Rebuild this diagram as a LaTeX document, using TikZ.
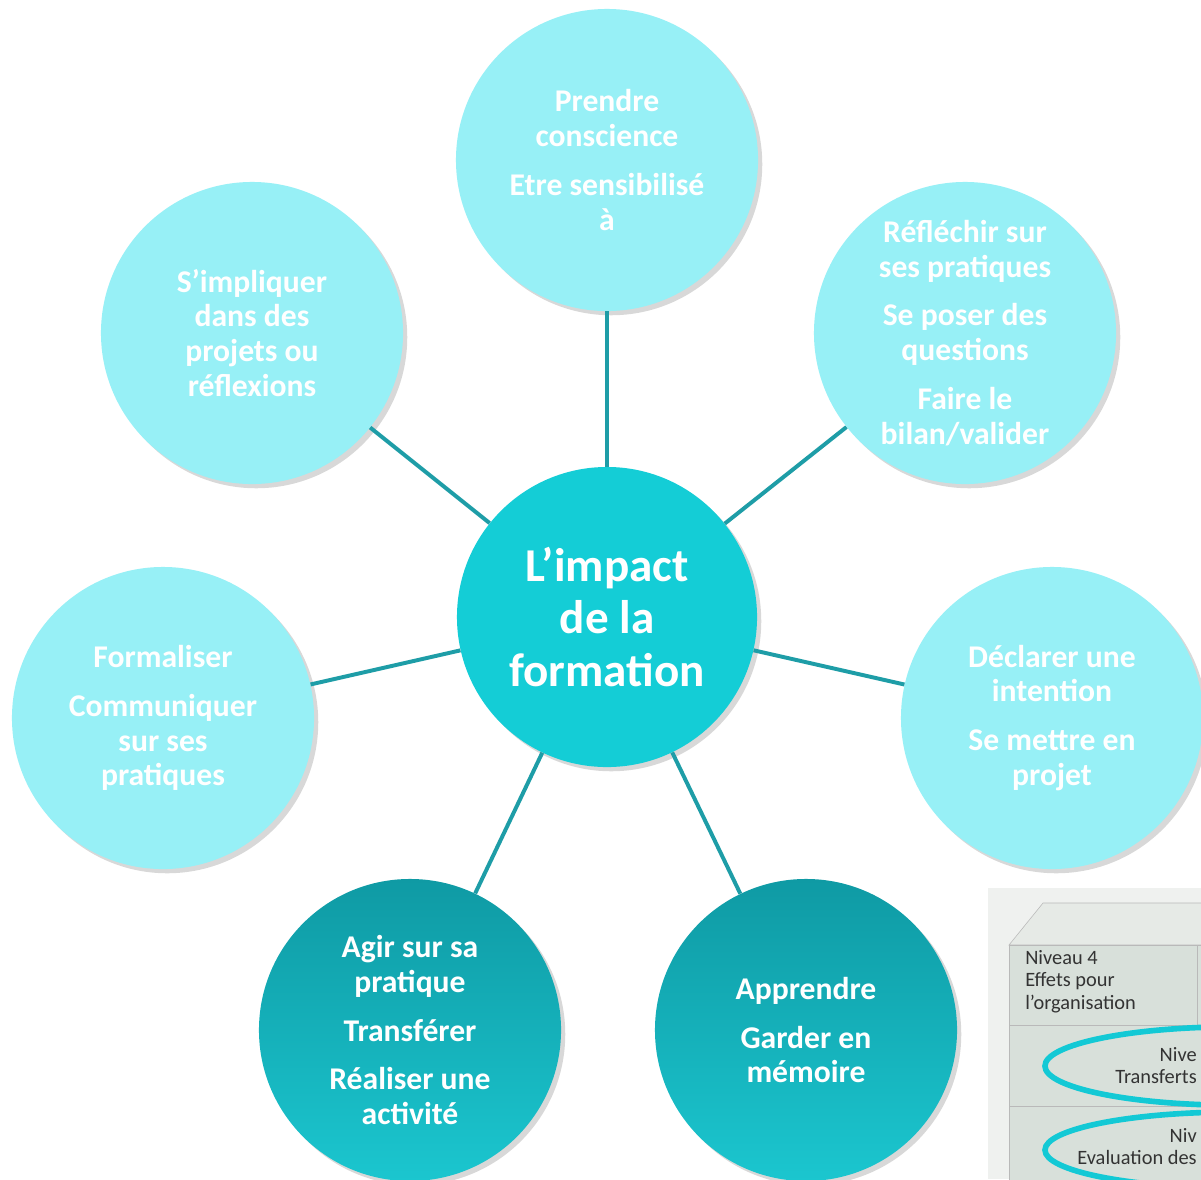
\documentclass[tikz,border=0pt]{standalone}
\usepackage{fontspec}
\setmainfont{Carlito}
\usetikzlibrary{shadows}

\definecolor{paleaqua}{HTML}{97F0F6}
\definecolor{coreaqua}{HTML}{14CDD6}
\definecolor{deepteal}{HTML}{0F9AA4}
\definecolor{softteal}{HTML}{1BC6CF}
\definecolor{spoketeal}{HTML}{1E9DA7}
\definecolor{ringaqua}{HTML}{13C9D5}
\definecolor{boxface}{HTML}{D8E0DA}
\definecolor{boxtop}{HTML}{E6EAE6}
\definecolor{boxpanel}{HTML}{EFF1EF}

\begin{document}
\begin{tikzpicture}[x = 0.025cm, y = -0.025cm,
bubble/.style = {circle, minimum size = 7.55cm, inner sep = 0pt, align = center, text = white,
  font = \bfseries\fontsize{22.5}{24.8}\selectfont,
  drop shadow = {opacity = 0.3, shadow xshift = 3pt, shadow yshift = -3pt}},
bubblel/.style = {bubble, fill = paleaqua},
bubbled/.style = {bubble, top color = deepteal, bottom color = softteal},
spoke/.style = {spoketeal, line width = 2.8pt},
lvltext/.style = {align = left, inner sep = 0pt, font = \fontsize{14.5}{16}\selectfont, text = black!80}]

\clip (0,0) rectangle (1201,1179);
\fill[white] (0,0) rectangle (1201,1179);

\node[circle, minimum size = 7.5cm, inner sep = 0pt, fill = coreaqua, align = center, text = white,
  font = \bfseries\fontsize{33.5}{37}\selectfont,
  drop shadow = {opacity = 0.3, shadow xshift = 3pt, shadow yshift = -3pt}] (core) at (607,617)
  {L’impact\\de la\\formation};

\node[bubblel] (aware) at (607,160) {Prendre\\conscience\\[10pt]Etre sensibilisé\\à};
\node[bubblel] (reflect) at (965,333) {Réfléchir sur\\ses pratiques\\[10pt]Se poser des\\questions\\[10pt]Faire le\\bilan/valider};
\node[bubblel] (intend) at (1052,718) {Déclarer une\\intention\\[10pt]Se mettre en\\projet};
\node[bubbled] (learn) at (806,1030) {Apprendre\\[10pt]Garder en\\mémoire};
\node[bubbled] (act) at (410,1030) {Agir sur sa\\pratique\\[10pt]Transférer\\[10pt]Réaliser une\\activité};
\node[bubblel] (share) at (163,718) {Formaliser\\[10pt]Communiquer\\sur ses\\pratiques};
\node[bubblel] (engage) at (252,333) {S’impliquer\\dans des\\projets ou\\réflexions};

% Connect bubbles
\draw[spoke] (core) -- (aware);
\draw[spoke] (core) -- (reflect);
\draw[spoke] (core) -- (intend);
\draw[spoke] (core) -- (learn);
\draw[spoke] (core) -- (act);
\draw[spoke] (core) -- (share);
\draw[spoke] (core) -- (engage);

% level box (cut by the edge)
\fill[boxpanel] (988,888) rectangle (1201,1179);
\filldraw[fill = boxtop, draw = gray!55] (1009,945) -- (1043,903) -- (1215,903) -- (1215,945) -- cycle;
\filldraw[fill = boxface, draw = gray!55] (1009,945) rectangle (1215,1200);
\draw[gray!55] (1009,1025) -- (1215,1025);
\draw[gray!55] (1009,1106) -- (1215,1106);
\draw[gray!55] (1197,945) -- (1197,1025);
\draw[ringaqua, line width = 4pt] (1235,1066) ellipse [x radius = 4.75cm, y radius = 0.98cm];
\draw[ringaqua, line width = 4pt] (1235,1150) ellipse [x radius = 4.75cm, y radius = 0.95cm];

\node[lvltext, anchor = north west] (lvl4) at (1025,950) {Niveau 4\\Effets pour\\l’organisation};
\node[lvltext, anchor = east] (lvl3a) at (1197,1055) {Nive};
\node[lvltext, anchor = east] (lvl3b) at (1197,1077) {Transferts};
\node[lvltext, anchor = east] (lvl2a) at (1197,1135) {Niv};
\node[lvltext, anchor = east] (lvl2b) at (1197,1157) {Evaluation des};

\end{tikzpicture}
\end{document}
